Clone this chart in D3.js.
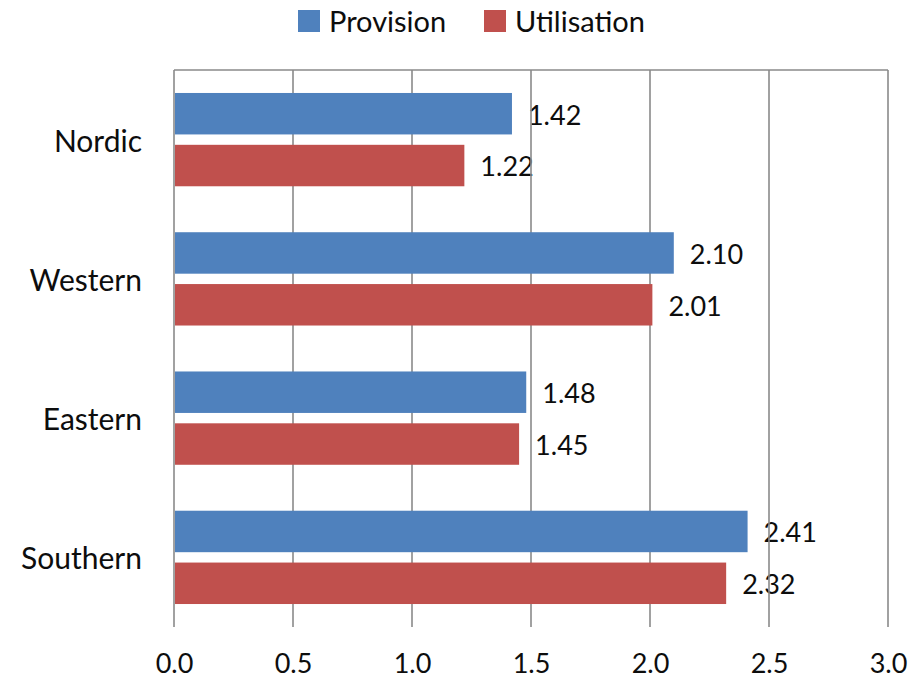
<!DOCTYPE html>
<html>
<head>
<meta charset="utf-8">
<script src="https://cdn.jsdelivr.net/npm/d3@7"></script>
<style>
  html, body { margin: 0; padding: 0; background: #fff; }
  svg { display: block; }
  text { font-family: Lato, "Noto Sans", sans-serif; fill: #0d0d0d; }
</style>
</head>
<body>
<svg id="chart" width="913" height="678"></svg>
<script>
// Regions and the two measured series
const categories = ["Nordic", "Western", "Eastern", "Southern"];
const seriesNames = ["Provision", "Utilisation"];
const provision = [1.42, 2.10, 1.48, 2.41];
const utilisation = [1.22, 2.01, 1.45, 2.32];
const xTicks = [0, 0.5, 1.0, 1.5, 2.0, 2.5, 3.0];
const colors = ["#4F81BD", "#C0504D"];

const seriesValues = [provision, utilisation];
const rows = categories.map((c, i) => ({
  category: c,
  values: seriesNames.map((s, j) => ({ series: s, value: seriesValues[j][i] }))
}));

const svg = d3.select("#chart");
const plot = { left: 174, right: 888, top: 70, bottom: 627 };

const x = d3.scaleLinear().domain([0, 3]).range([plot.left, plot.right]);
const y0 = d3.scaleBand().domain(categories).range([plot.top, plot.bottom])
  .paddingInner(0.33).paddingOuter(0.165);
const y1 = d3.scaleBand().domain(seriesNames).range([0, y0.bandwidth()]).paddingInner(0.2);
const color = d3.scaleOrdinal().domain(seriesNames).range(colors);
const fmt = d3.format(".2f");

// Value labels (drawn first so the grid passes over them)
const labelLayer = svg.append("g");
rows.forEach(r => {
  labelLayer.selectAll(null).data(r.values).join("text")
    .attr("x", d => x(d.value) + 16)
    .attr("y", d => y0(r.category) + y1(d.series) + y1.bandwidth() / 2 + 4)
    .attr("dominant-baseline", "middle")
    .attr("font-size", 27)
    .text(d => fmt(d.value));
});

// Vertical gridlines (also serve as left axis and right border)
svg.append("g").selectAll("line").data(xTicks).join("line")
  .attr("x1", d => x(d)).attr("x2", d => x(d))
  .attr("y1", plot.top).attr("y2", plot.bottom)
  .attr("stroke", "#8a8a8a").attr("stroke-width", 1.6);

// Top border
svg.append("line")
  .attr("x1", plot.left).attr("x2", plot.right)
  .attr("y1", plot.top).attr("y2", plot.top)
  .attr("stroke", "#8a8a8a").attr("stroke-width", 1.6);

// Bars
const groups = svg.append("g").selectAll("g").data(rows).join("g")
  .attr("transform", d => `translate(0,${y0(d.category)})`);
groups.selectAll("rect").data(d => d.values).join("rect")
  .attr("x", x(0) + 1)
  .attr("y", d => y1(d.series))
  .attr("width", d => x(d.value) - x(0) - 1)
  .attr("height", y1.bandwidth())
  .attr("fill", d => color(d.series));

// X axis tick labels
const xAxis = d3.axisBottom(x).tickValues(xTicks).tickFormat(d3.format(".1f")).tickSize(0).tickPadding(0);
const gx = svg.append("g").attr("transform", `translate(0,${plot.bottom})`).call(xAxis);
gx.select(".domain").remove();
gx.selectAll("text")
  .attr("y", 37)
  .attr("dy", "0.35em")
  .attr("font-size", 27)
  .attr("font-family", "Lato, 'Noto Sans', sans-serif")
  .attr("fill", "#0d0d0d");

// Category labels
const yAxis = d3.axisLeft(y0).tickSize(0).tickPadding(32);
const gy = svg.append("g").attr("transform", `translate(${plot.left},0)`).call(yAxis);
gy.select(".domain").remove();
gy.selectAll("text")
  .attr("dy", "0.4em")
  .attr("font-size", 30)
  .attr("font-family", "Lato, 'Noto Sans', sans-serif")
  .attr("fill", "#0d0d0d");

// Legend
const legend = svg.append("g");
const legendX = [298, 484];
seriesNames.forEach((s, i) => {
  const g = legend.append("g").attr("transform", `translate(${legendX[i]},10)`);
  g.append("rect").attr("width", 22).attr("height", 22).attr("fill", color(s));
  g.append("text").attr("x", 31).attr("y", 12).attr("dy", "0.36em")
    .attr("font-size", 29).text(s);
});
</script>
</body>
</html>
